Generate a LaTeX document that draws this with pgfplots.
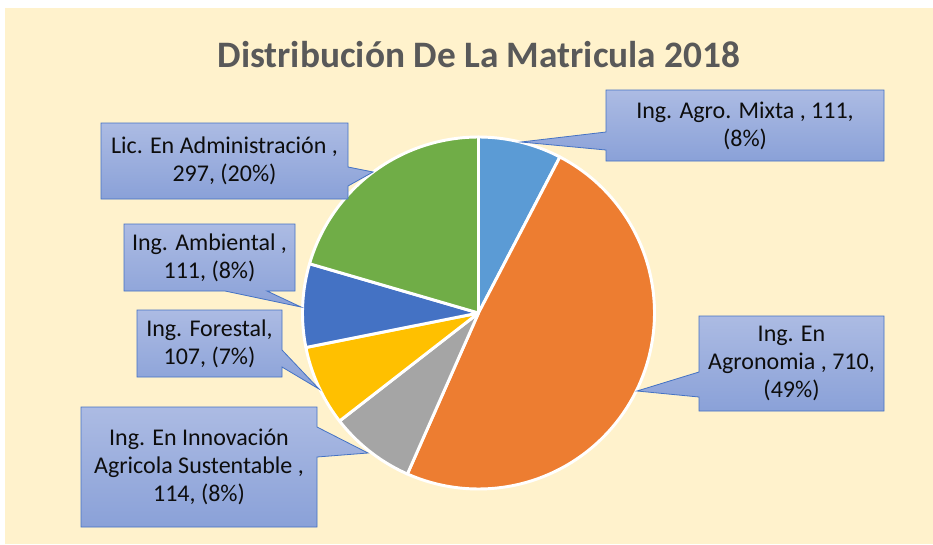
\documentclass[border=0pt]{standalone}
\usepackage{fontspec}
\setmainfont{Carlito}
\usepackage{pgfplots}
\usepackage{pgfplotstable}
\pgfplotsset{compat=1.18}

\definecolor{bgcream}{HTML}{FFF2CC}
\definecolor{titlegray}{HTML}{595959}
\definecolor{slice0}{HTML}{5B9BD5}
\definecolor{slice1}{HTML}{ED7D31}
\definecolor{slice2}{HTML}{A5A5A5}
\definecolor{slice3}{HTML}{FFC000}
\definecolor{slice4}{HTML}{4472C4}
\definecolor{slice5}{HTML}{70AD47}
\definecolor{boxtop}{HTML}{ACBBE3}
\definecolor{boxbot}{HTML}{8AA1D8}
\definecolor{boxline}{HTML}{4472C4}

% data: matricula 2018
\pgfplotstableread[col sep=comma]{
name,value
Ing. Agro. Mixta,111
Ing. En Agronomia,710
Ing. En Innovacion Agricola Sustentable,114
Ing. Forestal,107
Ing. Ambiental,111
Lic. En Administracion,297
}\pietable

% cumulative sums
\xdef\cum{0}
\pgfplotstableforeachcolumnelement{value}\of\pietable\as\v{%
  \pgfmathsetmacro\tmp{\cum+\v}%
  \expandafter\xdef\csname s\pgfplotstablerow\endcsname{\cum}%
  \expandafter\xdef\csname e\pgfplotstablerow\endcsname{\tmp}%
  \xdef\cum{\tmp}%
}
% angles (degrees, clockwise from top)
\foreach \i in {0,...,5}{%
  \pgfmathsetmacro\aa{\csname s\i\endcsname/\cum*360}%
  \pgfmathsetmacro\bb{\csname e\i\endcsname/\cum*360}%
  \expandafter\xdef\csname a\i\endcsname{\aa}%
  \expandafter\xdef\csname b\i\endcsname{\bb}%
}

\tikzset{callout/.style={draw=boxline, line width=0.6pt, top color=boxtop, bottom color=boxbot}}

\begin{document}
\begin{tikzpicture}
\begin{axis}[
  hide axis, x=0.75pt, y=0.75pt,
  xmin=0, xmax=933, ymin=0, ymax=544, y dir=reverse,
  clip=false,
]
\fill[white] (axis cs:0,0) rectangle (axis cs:933,544);
\fill[bgcream] (axis cs:5,8) rectangle (axis cs:933,544);

\pgfplotsinvokeforeach{0,...,5}{%
  \addplot[draw=white, line width=2.2pt, line join=round, fill=slice#1,
    domain={\csname a#1\endcsname}:{\csname b#1\endcsname}, samples=90, variable=\t]
    ({478.5+176*sin(\t)},{313-176*cos(\t)}) -- (axis cs:478.5,313) -- cycle;
}

\node[font=\bfseries\fontsize{28}{32}\selectfont, text=titlegray] at (axis cs:479,55) {Distribución De La Matricula 2018};

% callouts
\path[callout] (axis cs:606,90) -- (axis cs:884,90) -- (axis cs:884,161) -- (axis cs:606,161) -- (axis cs:606,150) -- (axis cs:521,142) -- (axis cs:606,132) -- cycle;
\path[callout] (axis cs:699,316) -- (axis cs:884,316) -- (axis cs:884,411) -- (axis cs:699,411) -- (axis cs:699,397) -- (axis cs:637,391) -- (axis cs:699,372) -- cycle;
\path[callout] (axis cs:101,123) -- (axis cs:348,123) -- (axis cs:348,167) -- (axis cs:373,172) -- (axis cs:348,186) -- (axis cs:348,199) -- (axis cs:101,199) -- cycle;
\path[callout] (axis cs:124,224) -- (axis cs:295,224) -- (axis cs:295,291) -- (axis cs:267,291) -- (axis cs:301,307) -- (axis cs:225,291) -- (axis cs:124,291) -- cycle;
\path[callout] (axis cs:137,310) -- (axis cs:282,310) -- (axis cs:282,350) -- (axis cs:319,389) -- (axis cs:282,367) -- (axis cs:282,377) -- (axis cs:137,377) -- cycle;
\path[callout] (axis cs:81,407) -- (axis cs:317,407) -- (axis cs:317,427) -- (axis cs:368,453) -- (axis cs:317,457) -- (axis cs:317,527) -- (axis cs:81,527) -- cycle;

\begin{scope}[every node/.style={align=center, font=\fontsize{18}{21}\selectfont, text=black!95}]
\node at (axis cs:745,125.5) {Ing. Agro. Mixta , 111,\\(8\%)};
\node at (axis cs:791.5,363.5) {Ing. En\\Agronomia , 710,\\(49\%)};
\node at (axis cs:224.5,161) {Lic. En Administración ,\\297, (20\%)};
\node at (axis cs:209.5,257.5) {Ing. Ambiental ,\\111, (8\%)};
\node at (axis cs:209.5,343.5) {Ing. Forestal,\\107, (7\%)};
\node at (axis cs:199,467) {Ing. En Innovación\\Agricola Sustentable ,\\114, (8\%)};
\end{scope}
\end{axis}
\end{tikzpicture}
\end{document}
